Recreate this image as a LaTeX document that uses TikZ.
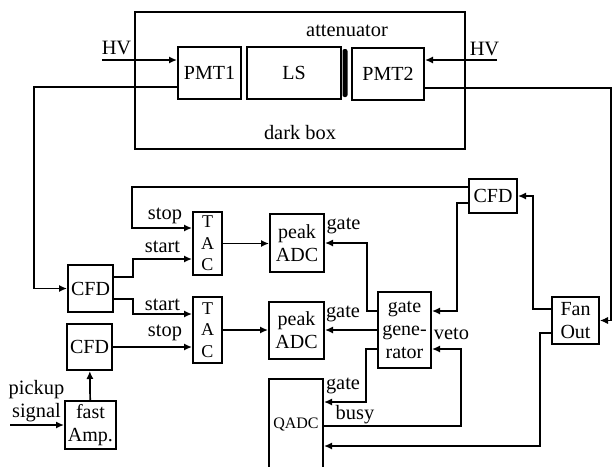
\documentclass[tikz,border=0pt]{standalone}
\usepackage{fontspec}
\setmainfont{Liberation Serif}
\usepackage{tikz}
\usetikzlibrary{arrows.meta,positioning}
\tikzset{
  box/.style={rectangle,draw,line width=1pt,inner sep=1pt,align=center,font=\fontsize{10}{11.5}\selectfont},
  tacbox/.style={box,minimum width=14.5pt,font=\fontsize{9}{10.8}\selectfont},
  lbl/.style={inner sep=0pt,font=\fontsize{10.2}{11.5}\selectfont},
  edge/.style={-{Latex[length=4pt,width=3.6pt]},line width=0.85pt}
}
\begin{document}
\begin{tikzpicture}[x=0.5pt,y=-0.5pt]
\useasboundingbox (0,0) rectangle (612,467);
% dark box with the detectors
\node[box,minimum width=165pt,minimum height=68.5pt] (darkbox) at (300,80.5) {};
\node[box,minimum width=31.5pt,minimum height=26pt] (pmt1) at (209.5,73) {PMT1};
\node[box,minimum width=47pt,minimum height=26pt,right=2pt of pmt1] (ls) {LS};
\node[fill=black,rounded corners=1pt,inner sep=0pt,minimum width=2.5pt,minimum height=24pt] (atten) at (345,73) {};
\node[box,minimum width=36pt,minimum height=26pt] (pmt2) at (388,74) {PMT2};
\node[lbl] (attlabel) at (347,31) {attenuator};
\node[lbl] (darklabel) at (300,133) {dark box};
\node[lbl] (hv1) at (116.5,47.5) {HV};
\node[lbl] (hv2) at (484.5,48.5) {HV};
\coordinate (hvin1) at (102,60);
\coordinate (hvin2) at (497,60);
% electronics
\node[box,minimum width=22.5pt,minimum height=23.5pt] (cfd1) at (90.5,288.5) {CFD};
\node[box,minimum width=22.5pt,minimum height=23pt] (cfd2) at (89.5,347) {CFD};
\node[box,minimum width=25.5pt,minimum height=24pt] (fastamp) at (90.5,425) {fast\\Amp.};
\node[tacbox,minimum height=31.5pt] (tac1) at (207.5,243.5) {T\\A\\C};
\node[tacbox,minimum height=33pt] (tac2) at (207.5,330) {T\\A\\C};
\node[box,minimum width=27pt,minimum height=29pt] (adc1) at (297,243) {peak\\ADC};
\node[box,minimum width=27.5pt,minimum height=28.5pt] (adc2) at (296.5,330.5) {peak\\ADC};
\node[box,minimum width=26.5pt,minimum height=38pt] (gategen) at (404.5,330) {gate\\gene-\\rator};
\node[box,minimum width=27pt,minimum height=45.5pt,font=\fontsize{8}{9.5}\selectfont] (qadc) at (296,424.5) {QADC};
\node[box,minimum width=24pt,minimum height=17pt] (cfd3) at (493,196) {CFD};
\node[box,minimum width=23.5pt,minimum height=23.5pt] (fanout) at (575.5,320.5) {Fan\\Out};
\node[lbl,align=center] (pickup) at (36.5,401) {pickup\\signal};
\coordinate (pickin) at (10,425);
% labels on the wires
\node[lbl] (stop1) at (165,215.5) {stop};
\node[lbl] (start1) at (162.5,246.5) {start};
\node[lbl] (start2) at (162.5,304.5) {start};
\node[lbl] (stop2) at (165,332.5) {stop};
\node[lbl] (gate1) at (343.5,226) {gate};
\node[lbl] (gate2) at (343,313.5) {gate};
\node[lbl] (gate3) at (343,385.5) {gate};
\node[lbl] (busy) at (355,414.5) {busy};
\node[lbl] (veto) at (451.5,334) {veto};
% connections
\draw[edge] (hvin1) -- ([yshift=6.5pt]pmt1.west);
\draw[edge] (hvin2) -- ([yshift=7pt]pmt2.east);
\draw[edge] ([yshift=-7pt]pmt1.west) -- ++(-143,0) |- (cfd1.west);
\draw[edge,line width=0.6pt] ([yshift=-7pt]pmt2.east) -- ++(186,0) |- (fanout.east);
\draw[edge] ([yshift=5.75pt]fanout.west) -- ++(-18,0) |- (cfd3.east);
\draw[edge] ([yshift=-6.25pt]fanout.west) -- ++(-11,0) |- ([yshift=-10.75pt]qadc.east);
\draw[edge] ([yshift=4.5pt]cfd3.west) -- ++(-336,0) |- ([yshift=7.75pt]tac1.west);
\draw[edge] ([yshift=-3.5pt]cfd3.west) -- ++(-11,0) |- ([yshift=9.5pt]gategen.east);
\draw[edge] ([yshift=5.75pt]cfd1.east) -- ++(19,0) |- ([yshift=-7.75pt]tac1.west);
\draw[edge] ([yshift=-5.25pt]cfd1.east) -- ++(19,0) |- ([yshift=8pt]tac2.west);
\draw[edge] (cfd2.east) -- (tac2.west |- cfd2.east);
\draw[edge] (fastamp) -- (cfd2);
\draw[edge] (pickin) -- (fastamp.west);
\draw[edge] (tac1.east) -- (adc1.west |- tac1.east);
\draw[edge] (tac2.east) -- (adc2.west |- tac2.east);
\draw[edge] ([yshift=9.5pt]gategen.west) -- ++(-10,0) |- (adc1.east);
\draw[edge] (gategen.west) -- (adc2.east |- gategen.west);
\draw[edge] ([yshift=-9.5pt]gategen.west) -- ++(-11,0) |- ([yshift=11.25pt]qadc.east);
\draw[edge] ([yshift=-0.75pt]qadc.east) -- ++(137,0) |- ([yshift=-9.5pt]gategen.east);
\end{tikzpicture}
\end{document}
